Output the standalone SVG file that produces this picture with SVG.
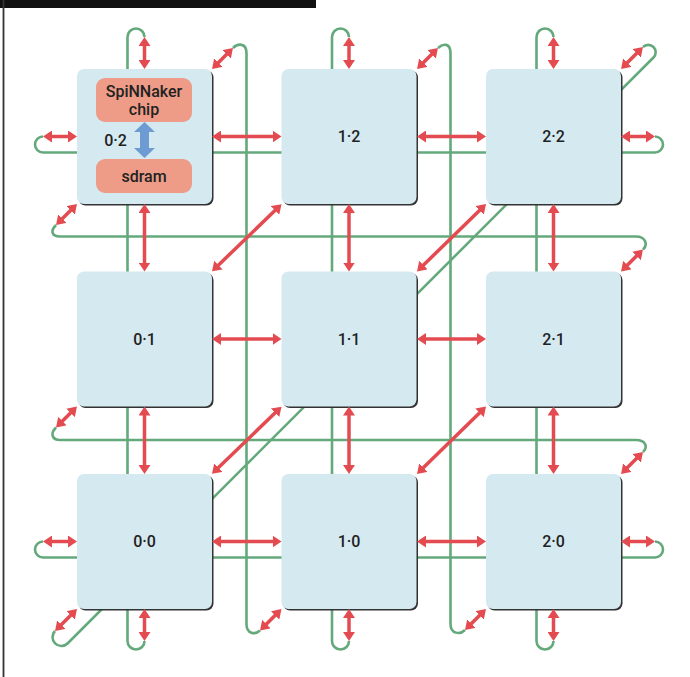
<svg xmlns="http://www.w3.org/2000/svg" width="690" height="677" viewBox="0 0 690 677">
<style>
.g{fill:none;stroke:#64a97c;stroke-width:2.6}
.r{stroke:#e44b50;stroke-width:3.5;fill:none;marker-start:url(#ah);marker-end:url(#ah)}
.nb{fill:#d5e9f0}
.sh{fill:#333}
.lb{font-family:Roboto,"Liberation Sans",Arial,sans-serif;font-weight:500;font-size:16px;fill:#222;text-anchor:middle}
.cb{fill:#ee9c88}
.ct{font-family:Roboto,"Liberation Sans",Arial,sans-serif;font-weight:500;font-size:16px;fill:#222;text-anchor:middle}
</style>
<defs>
<marker id="ah" viewBox="0 0 9 12" refX="2" refY="6" markerWidth="9" markerHeight="12" markerUnits="userSpaceOnUse" orient="auto-start-reverse">
<path d="M0,0 L9,6 L0,12 z" fill="#e44b50"/>
</marker>
</defs>
<rect x="0" y="0" width="316" height="8" fill="#111"/>
<line x1="3.5" y1="0" x2="3.5" y2="677" stroke="#333" stroke-width="1.8"/>

<g id="wires">
<path class="g" d="M144.5,37 A8.5,8.5 0 0 0 127.5,37 L127.5,641 A8.5,8.5 0 0 0 144.5,641"/>
<path class="g" d="M349,37 A8.5,8.5 0 0 0 332,37 L332,641 A8.5,8.5 0 0 0 349,641"/>
<path class="g" d="M553.5,37 A8.5,8.5 0 0 0 536.5,37 L536.5,641 A8.5,8.5 0 0 0 553.5,641"/>
<path class="g" d="M43,136.5 A8,8 0 0 0 43,152.5 L655,152.5 A8,8 0 0 0 655,136.5"/>
<path class="g" d="M43,541.5 A8,8 0 0 0 43,557.5 L655,557.5 A8,8 0 0 0 655,541.5"/>
<path class="g" d="M56,225 C50,231 52,236.5 60,236.5 L636,236.5 C646,236.5 648,245 643,249.5"/>
<path class="g" d="M56,427.5 C50,433.5 52,440 60,440 L636,440 C646,440 648,447.5 643,452"/>
<path class="g" d="M233,48 C238,43 246.5,43 246.5,53 L246.5,624 C246.5,634 255,635 260,630.5"/>
<path class="g" d="M438,48 C443,43 450.5,43 450.5,53 L450.5,624 C450.5,634 460,635 465,630"/>
<path class="g" d="M643,47 A7.42,7.42 0 0 1 653.5,57.5 L67.5,643.5 A8.84,8.84 0 0 1 55,631"/>
</g>

<g id="n02"><rect class="sh" x="78.5" y="70.5" width="135" height="135" rx="7"/><rect class="nb" x="77" y="69" width="135" height="135" rx="7"/>
<rect class="cb" x="96" y="78" width="96" height="44" rx="9"/>
<text class="ct" x="144" y="97">SpiNNaker</text><text class="ct" x="144" y="115">chip</text>
<rect class="cb" x="96" y="159" width="96" height="34" rx="9"/>
<text class="ct" x="144" y="182">sdram</text>
<path d="M144.5,122 L155,132 L149,132 L149,148 L155,148 L144.5,158 L134,148 L140,148 L140,132 L134,132 Z" fill="#6e9bd2"/>
<text class="lb" x="115.5" y="146">0·2</text></g>
<g id="n12"><rect class="sh" x="283" y="70.5" width="135" height="135" rx="7"/><rect class="nb" x="281.5" y="69" width="135" height="135" rx="7"/><text class="lb" x="349" y="142">1·2</text></g>
<g id="n22"><rect class="sh" x="487.5" y="70.5" width="135" height="135" rx="7"/><rect class="nb" x="486" y="69" width="135" height="135" rx="7"/><text class="lb" x="553.5" y="142">2·2</text></g>
<g id="n01"><rect class="sh" x="78.5" y="273" width="135" height="135" rx="7"/><rect class="nb" x="77" y="271.5" width="135" height="135" rx="7"/><text class="lb" x="144.5" y="344.5">0·1</text></g>
<g id="n11"><rect class="sh" x="283" y="273" width="135" height="135" rx="7"/><rect class="nb" x="281.5" y="271.5" width="135" height="135" rx="7"/><text class="lb" x="349" y="344.5">1·1</text></g>
<g id="n21"><rect class="sh" x="487.5" y="273" width="135" height="135" rx="7"/><rect class="nb" x="486" y="271.5" width="135" height="135" rx="7"/><text class="lb" x="553.5" y="344.5">2·1</text></g>
<g id="n00"><rect class="sh" x="78.5" y="475.5" width="135" height="135" rx="7"/><rect class="nb" x="77" y="474" width="135" height="135" rx="7"/><text class="lb" x="144.5" y="547">0·0</text></g>
<g id="n10"><rect class="sh" x="283" y="475.5" width="135" height="135" rx="7"/><rect class="nb" x="281.5" y="474" width="135" height="135" rx="7"/><text class="lb" x="349" y="547">1·0</text></g>
<g id="n20"><rect class="sh" x="487.5" y="475.5" width="135" height="135" rx="7"/><rect class="nb" x="486" y="474" width="135" height="135" rx="7"/><text class="lb" x="553.5" y="547">2·0</text></g>

<g id="links">
<line class="r" x1="219" y1="136.5" x2="274.5" y2="136.5"/>
<line class="r" x1="424" y1="136.5" x2="479" y2="136.5"/>
<line class="r" x1="219" y1="339" x2="274.5" y2="339"/>
<line class="r" x1="424" y1="339" x2="479" y2="339"/>
<line class="r" x1="219" y1="541.5" x2="274.5" y2="541.5"/>
<line class="r" x1="424" y1="541.5" x2="479" y2="541.5"/>
<line class="r" x1="50" y1="136.5" x2="70" y2="136.5"/>
<line class="r" x1="50" y1="541.5" x2="70" y2="541.5"/>
<line class="r" x1="628" y1="136.5" x2="648" y2="136.5"/>
<line class="r" x1="628" y1="541.5" x2="648" y2="541.5"/>

<line class="r" x1="144.5" y1="44" x2="144.5" y2="62"/>
<line class="r" x1="349" y1="44" x2="349" y2="62"/>
<line class="r" x1="553.5" y1="44" x2="553.5" y2="62"/>
<line class="r" x1="144.5" y1="211" x2="144.5" y2="264.5"/>
<line class="r" x1="349" y1="211" x2="349" y2="264.5"/>
<line class="r" x1="553.5" y1="211" x2="553.5" y2="264.5"/>
<line class="r" x1="144.5" y1="413.5" x2="144.5" y2="467"/>
<line class="r" x1="349" y1="413.5" x2="349" y2="467"/>
<line class="r" x1="553.5" y1="413.5" x2="553.5" y2="467"/>
<line class="r" x1="144.5" y1="616" x2="144.5" y2="634"/>
<line class="r" x1="349" y1="616" x2="349" y2="634"/>
<line class="r" x1="553.5" y1="616" x2="553.5" y2="634"/>

<line class="r" x1="217" y1="266.5" x2="276.5" y2="209"/>
<line class="r" x1="422" y1="266.5" x2="481" y2="209"/>
<line class="r" x1="217" y1="469" x2="276.5" y2="411.5"/>
<line class="r" x1="422" y1="469" x2="481" y2="411.5"/>
<line class="r" x1="217" y1="64" x2="228" y2="53"/>
<line class="r" x1="422" y1="64" x2="433" y2="53"/>
<line class="r" x1="626" y1="64" x2="638" y2="52"/>
<line class="r" x1="72" y1="209" x2="61" y2="220"/>
<line class="r" x1="72" y1="411.5" x2="61" y2="422.5"/>
<line class="r" x1="72" y1="614" x2="60" y2="626"/>
<line class="r" x1="626" y1="266.5" x2="638" y2="254.5"/>
<line class="r" x1="626" y1="469" x2="638" y2="457"/>
<line class="r" x1="276.5" y1="614" x2="265" y2="625.5"/>
<line class="r" x1="481" y1="614" x2="470" y2="625"/>
</g>
</svg>
